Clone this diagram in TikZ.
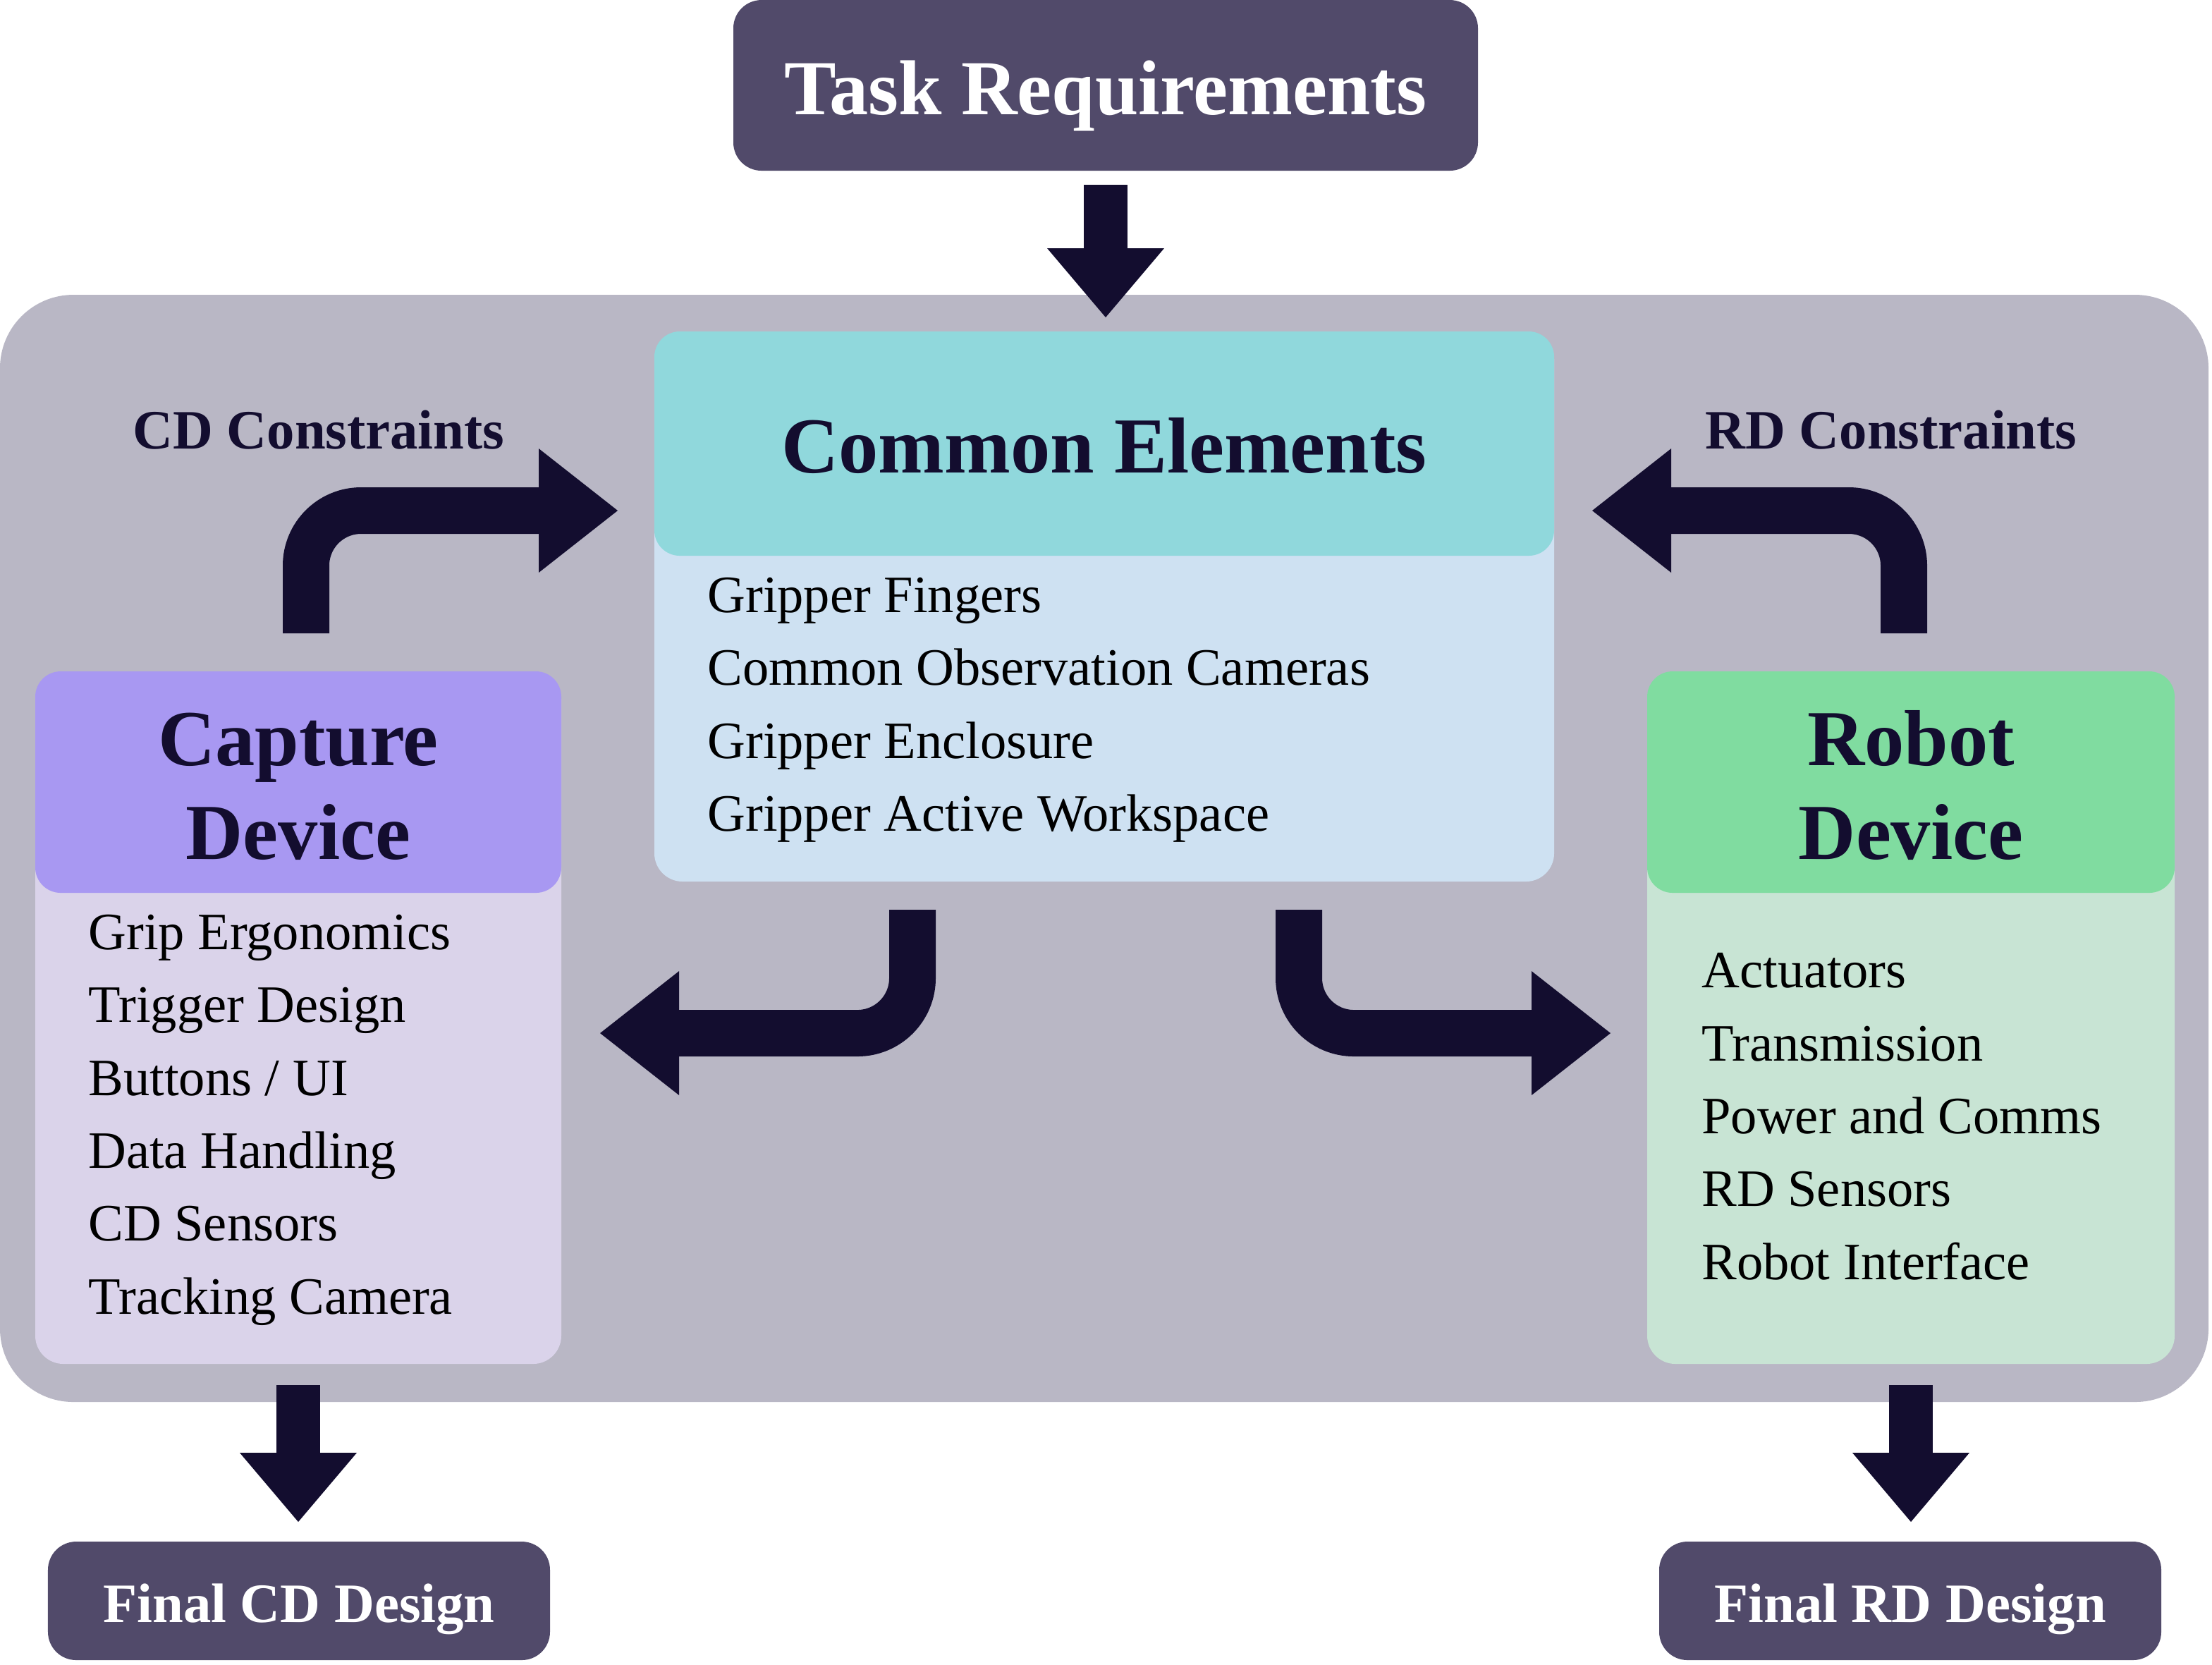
\documentclass[tikz,border=0pt]{standalone}
\usepackage{fontspec}
\setmainfont{Liberation Serif}
\usetikzlibrary{arrows.meta}

\definecolor{taskfill}{HTML}{514A6A}
\definecolor{arrowblue}{HTML}{130D2F}
\definecolor{panelgrey}{HTML}{B9B7C5}
\definecolor{commonhead}{HTML}{90D8DC}
\definecolor{commonbody}{HTML}{CEE1F2}
\definecolor{capturehead}{HTML}{A898F2}
\definecolor{capturebody}{HTML}{DAD3EA}
\definecolor{robothead}{HTML}{80DCA0}
\definecolor{robotbody}{HTML}{C8E4D4}

\begin{document}
\begin{tikzpicture}[x=1mm, y=-1mm]
\tikzstyle{panel} = [rectangle, fill=panelgrey, rounded corners=5.2mm, inner sep=0pt, outer sep=0pt, anchor=north west]
\tikzstyle{data} = [rectangle, fill=taskfill, rounded corners=2mm, text=white, font=\fontsize{15.7}{18}\selectfont\bfseries, inner sep=0pt, outer sep=0pt, text depth=0pt]
\tikzstyle{result} = [data, font=\fontsize{11.2}{13}\selectfont\bfseries]
\tikzstyle{stagehead} = [rectangle, rounded corners=1.8mm, text=arrowblue, font=\fontsize{16}{18.9}\selectfont\bfseries, align=center, inner sep=0pt, outer sep=0pt, text depth=0pt, anchor=north west]
\tikzstyle{stagebody} = [rectangle, rounded corners=2mm, inner sep=0pt, outer sep=0pt, anchor=north west]
\tikzstyle{items} = [align=left, font=\fontsize{10.6}{14.7}\selectfont, inner sep=0pt, anchor=base west]
\tikzstyle{note} = [font=\fontsize{11.2}{13}\selectfont\bfseries, text=arrowblue, inner sep=0pt, anchor=base]
\tikzstyle{arrow} = [draw=arrowblue, line width=3.1mm, -{Triangle[width=8.3mm, length=4.9mm, line width=0pt 0 0]}]
\tikzstyle{bentarrow} = [draw=arrowblue, line width=3.3mm, rounded corners=3.9mm, -{Triangle[width=8.8mm, length=5.6mm, line width=0pt 0 0]}]

\useasboundingbox (0,0) rectangle (156.85,118);

\node (Panel) [panel, minimum width=156.6mm, minimum height=78.5mm] at (0,20.9) {};
\node (TaskRequirements) [data, minimum width=52.8mm, minimum height=12.1mm, text height=4.1mm] at (78.4,6.05) {Task Requirements};

% common elements
\node (CommonBody) [stagebody, fill=commonbody, minimum width=63.8mm, minimum height=39mm] at (46.4,23.5) {};
\node (CommonHead) [stagehead, fill=commonhead, minimum width=63.8mm, minimum height=15.9mm, text height=4.1mm] at (46.4,23.5) {Common Elements};
\node (CommonList) [items] at (50.1,58.93) {Gripper Fingers\\Common Observation Cameras\\Gripper Enclosure\\Gripper Active Workspace};

% capture device
\node (CaptureBody) [stagebody, fill=capturebody, minimum width=37.3mm, minimum height=49.1mm] at (2.5,47.6) {};
\node (CaptureHead) [stagehead, fill=capturehead, minimum width=37.3mm, minimum height=15.7mm, text height=10.9mm] at (2.5,47.6) {Capture\\Device};
\node (CaptureList) [items] at (6.2,93.15) {Grip Ergonomics\\Trigger Design\\Buttons / UI\\Data Handling\\CD Sensors\\Tracking Camera};

% robot device
\node (RobotBody) [stagebody, fill=robotbody, minimum width=37.4mm, minimum height=49.1mm] at (116.8,47.6) {};
\node (RobotHead) [stagehead, fill=robothead, minimum width=37.4mm, minimum height=15.7mm, text height=10.9mm] at (116.8,47.6) {Robot\\Device};
\node (RobotList) [items] at (120.6,90.71) {Actuators\\Transmission\\Power and Comms\\RD Sensors\\Robot Interface};

\node (FinalCD) [result, minimum width=35.6mm, minimum height=8.4mm, text height=3mm] at (21.2,113.5) {Final CD Design};
\node (FinalRD) [result, minimum width=35.6mm, minimum height=8.4mm, text height=3mm] at (135.45,113.5) {Final RD Design};

\node (CDConstraints) [note] at (22.6,31.8) {CD Constraints};
\node (RDConstraints) [note] at (134.1,31.8) {RD Constraints};

\draw [arrow] ([yshift=-1mm]TaskRequirements.south) -- ([yshift=1mm]TaskRequirements.south |- CommonHead.north);
\draw [arrow] ([yshift=-1.5mm]CaptureBody.south) -- ([yshift=1.4mm]CaptureBody.south |- FinalCD.north);
\draw [arrow] ([yshift=-1.5mm]RobotBody.south) -- ([yshift=1.4mm]RobotBody.south |- FinalRD.north);

\draw [bentarrow] ([xshift=0.55mm,yshift=2.7mm]CaptureHead.north) |- ([xshift=-2.6mm,yshift=-4.75mm]CommonHead.west);
\draw [bentarrow] ([xshift=-0.5mm,yshift=2.7mm]RobotHead.north) |- ([xshift=2.7mm,yshift=-4.75mm]CommonHead.east);
\draw [bentarrow] ([xshift=-13.6mm,yshift=-2mm]CommonBody.south) |- ([xshift=2.75mm,yshift=-1.1mm]CaptureBody.east);
\draw [bentarrow] ([xshift=13.8mm,yshift=-2mm]CommonBody.south) |- ([xshift=-2.6mm,yshift=-1.1mm]RobotBody.west);

\end{tikzpicture}
\end{document}
